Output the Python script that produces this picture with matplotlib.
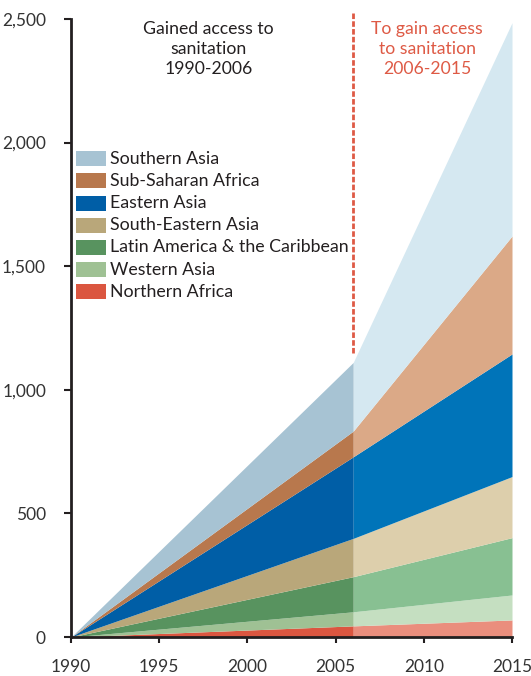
import numpy as np
import matplotlib
matplotlib.use("Agg")
import matplotlib.pyplot as plt
from matplotlib.patches import Rectangle
from matplotlib.ticker import FuncFormatter

years = [1990, 2006, 2015]
regions = ["Northern Africa", "Western Asia", "Latin America & the Caribbean",
           "South-Eastern Asia", "Eastern Asia", "Sub-Saharan Africa", "Southern Asia"]
# people (millions) gaining access, cumulative since 1990 (per region)
values = {
    "Northern Africa":               [0, 45, 69],
    "Western Asia":                  [0, 57, 101],
    "Latin America & the Caribbean": [0, 142, 232],
    "South-Eastern Asia":            [0, 155, 247],
    "Eastern Asia":                  [0, 330, 496],
    "Sub-Saharan Africa":            [0, 104, 477],
    "Southern Asia":                 [0, 278, 863],
}
dark_colors = ["#db5640", "#9fc194", "#58935f", "#b9a77a", "#005ea6", "#b8784d", "#a7c3d3"]
light_colors = ["#ea8e7d", "#c5dfc1", "#88c092", "#ddcfac", "#0074b9", "#dba987", "#d5e8f1"]
legend_order = ["Southern Asia", "Sub-Saharan Africa", "Eastern Asia", "South-Eastern Asia",
                "Latin America & the Caribbean", "Western Asia", "Northern Africa"]
yticks = [0, 500, 1000, 1500, 2000, 2500]
xticks = [1990, 1995, 2000, 2005, 2010, 2015]

plt.rcParams['font.family'] = ['Lato', 'DejaVu Sans']
fig = plt.figure(figsize=(5.31, 6.76), dpi=100)
ax = fig.add_axes([71/531, 39/676, 441/531, 618/676])

arr = np.array([values[r] for r in regions], dtype=float)
cum = np.cumsum(arr, axis=0)
base = np.zeros(len(years))
for i, r in enumerate(regions):
    lo = cum[i-1] if i > 0 else base
    hi = cum[i]
    ax.fill_between(years[:2], lo[:2], hi[:2], color=dark_colors[i], lw=0)
    ax.fill_between(years[1:], lo[1:], hi[1:], color=light_colors[i], lw=0)

ax.set_xlim(1990, 2015)
ax.set_ylim(0, 2500)
ax.set_xticks(xticks)
ax.set_yticks(yticks)
ax.yaxis.set_major_formatter(FuncFormatter(lambda v, p: f"{int(v):,}"))
for s in ["top", "right"]:
    ax.spines[s].set_visible(False)
for s in ["left", "bottom"]:
    ax.spines[s].set_linewidth(2)
    ax.spines[s].set_color("#231f20")
ax.tick_params(axis="y", length=5, width=1.5, pad=13, labelsize=12.5, colors="#231f20", labelcolor="#333333")
ax.tick_params(axis="x", length=4, width=1.5, pad=12, labelsize=12.5, colors="#231f20", labelcolor="#333333")

# dashed divider
ax.plot([2006, 2006], [1150, 2525], ls=(0, (2, 0.8)), color="#de5a45", lw=2, clip_on=False)

ax.text(1997.8, 2492, "Gained access to\nsanitation\n1990-2006", ha="center", va="top",
        fontsize=12.7, color="#231f20", linespacing=1.3)
ax.text(2010.2, 2492, "To gain access\nto sanitation\n2006-2015", ha="center", va="top",
        fontsize=12.7, color="#de5a45", linespacing=1.3)

# legend
color_of = dict(zip(regions, dark_colors))
for j, name in enumerate(legend_order):
    yc = (637 - (158.7 + 22.2 * j)) / 618
    h = 15 / 618
    ax.add_patch(Rectangle((5/441, yc - h/2), 30/441, h, transform=ax.transAxes,
                           facecolor=color_of[name], edgecolor="none"))
    ax.text(39/441, yc, name, transform=ax.transAxes, va="center", ha="left",
            fontsize=12.8, color="#231f20")

fig.savefig("out.png", dpi=100)
